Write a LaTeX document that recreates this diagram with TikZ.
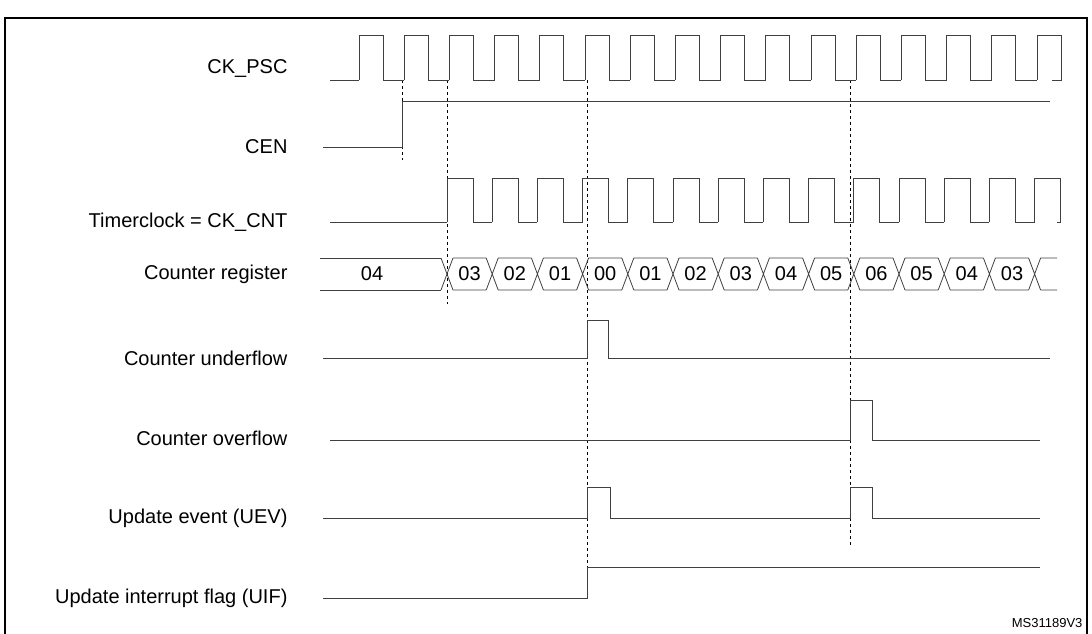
\documentclass[tikz,border=0pt]{standalone}
\usepackage{fontspec}
\setmainfont{Liberation Sans}
\begin{document}
\begin{tikzpicture}[x=1pt,y=-1pt,
    sig/.style={line width=0.8pt,black!75},
    evt/.style={dashed,line width=0.5pt},
    lab/.style={anchor=east,font=\fontsize{20}{22}\selectfont},
    val/.style={font=\fontsize{20}{22}\selectfont}]
  \useasboundingbox (0,0) rectangle (1092,633);
  \draw [line width=2pt] (5,18) rectangle (1087,640);
  % signal names
  \node [lab] (psc) at (291,68)  {CK\_PSC};
  \node [lab] (cen) at (291,147) {CEN};
  \node [lab] (cnt) at (291,222) {Timerclock = CK\_CNT};
  \node [lab] (reg) at (291,274) {Counter register};
  \node [lab] (udf) at (291,358) {Counter underflow};
  \node [lab] (ovf) at (291,438) {Counter overflow};
  \node [lab] (uev) at (291,518) {Update event (UEV)};
  \node [lab] (uif) at (291,598) {Update interrupt flag (UIF)};
  \node [anchor=south east,font=\fontsize{13}{14}\selectfont] (ref) at (1086,631) {MS31189V3};
  % dashed markers
  \draw [evt] (402,80) -- (402,160);
  \draw [evt] (447,80) -- (447,304);
  \draw [evt] (587,80) -- (587,567);
  \draw [evt] (850,80) -- (850,545);
  % CK_PSC
  \draw [sig] (330,80) -- (359,80);
  \foreach \k in {0,...,15}{
    \pgfmathsetmacro{\r}{359+45.2*\k}
    \pgfmathsetmacro{\f}{\r+24}
    \pgfmathsetmacro{\n}{min(\r+45.2,1052)}
    \draw [sig] (\r,80) -- (\r,35) -- (\f,35) -- (\f,80) -- (\n,80);
  }
  % CEN
  \draw [sig] (323,147) -- (402,147) -- (402,101) -- (1050,101);
  % CK_CNT
  \draw [sig] (330,222) -- (447,222);
  \foreach \k in {0,...,13}{
    \pgfmathsetmacro{\r}{447+45.2*\k}
    \pgfmathsetmacro{\f}{\r+26}
    \pgfmathsetmacro{\n}{min(\r+45.2,1057)}
    \draw [sig] (\r,222) -- (\r,178) -- (\f,178) -- (\f,222) -- (\n,222);
  }
  % counter register
  \draw [sig] (320,258) -- (441,258) (320,290) -- (441,290);
  \node [val] (v0) at (372,274) {04};
  \foreach \v [count=\k from 0] in {03,02,01,00,01,02,03,04,05,06,05,04,03}{
    \pgfmathsetmacro{\a}{447+45.2*\k}
    \pgfmathsetmacro{\b}{\a+45.2}
    \draw [sig] (\a-6,258) -- (\a+6,290) (\a-6,290) -- (\a+6,258)
      (\a+6,258) -- (\b-6,258) (\a+6,290) -- (\b-6,290);
    \node [val] at ({(\a+\b)/2},274) {\v};
  }
  \draw [sig] (1028.6,258) -- (1040.6,290) (1028.6,290) -- (1040.6,258)
    (1040.6,258) -- (1057,258) (1040.6,290) -- (1057,290);
  % flags
  \draw [sig] (323,358) -- (587,358) -- (587,320) -- (608,320) -- (608,358) -- (1050,358);
  \draw [sig] (330,440) -- (850,440) -- (850,400) -- (872,400) -- (872,440) -- (1040,440);
  \draw [sig] (323,518) -- (587,518) -- (587,487) -- (610,487) -- (610,518) -- (850,518)
    -- (850,487) -- (872,487) -- (872,518) -- (1040,518);
  \draw [sig] (323,598) -- (587,598) -- (587,567) -- (1040,567);
\end{tikzpicture}
\end{document}
